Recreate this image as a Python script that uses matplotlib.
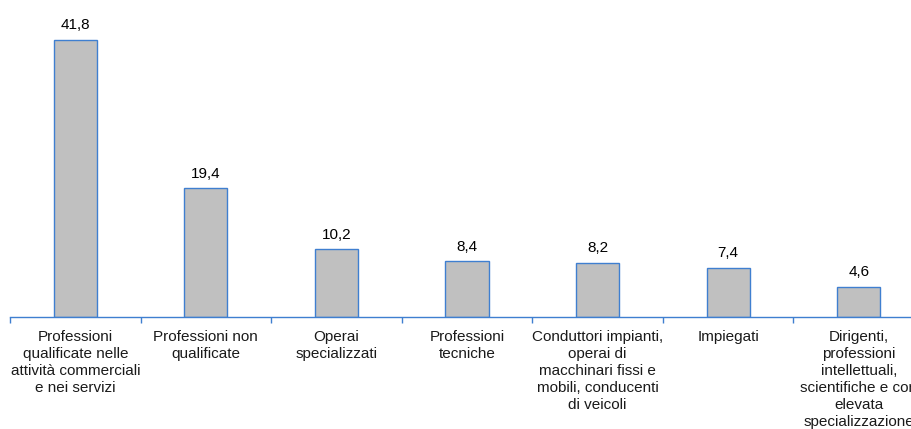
import matplotlib
matplotlib.use("Agg")
import matplotlib.pyplot as plt

categories = [
    "Professioni\nqualificate nelle\nattività commerciali\ne nei servizi",
    "Professioni non\nqualificate",
    "Operai\nspecializzati",
    "Professioni\ntecniche",
    "Conduttori impianti,\noperai di\nmacchinari fissi e\nmobili, conducenti\ndi veicoli",
    "Impiegati",
    "Dirigenti,\nprofessioni\nintellettuali,\nscientifiche e con\nelevata\nspecializzazione",
]
values = [41.8, 19.4, 10.2, 8.4, 8.2, 7.4, 4.6]
value_labels = ["41,8", "19,4", "10,2", "8,4", "8,2", "7,4", "4,6"]

plt.rcParams['font.family'] = ['Liberation Sans', 'DejaVu Sans']

W, H = 912, 429
fig = plt.figure(figsize=(W/100, H/100), dpi=100)
left_px, right_px = 10, 924
base_px = 317
ax = fig.add_axes([left_px/W, (H-base_px)/H, (right_px-left_px)/W, base_px/H])

blue = "#3F7FD0"
x = list(range(len(values)))
ax.bar(x, values, width=0.33, color="#C0C0C0", edgecolor=blue, linewidth=1.0)
ax.set_xlim(-0.5, len(values)-0.5)
ax.set_ylim(0, 317/6.627)

for xi, v, lab in zip(x, values, value_labels):
    ax.annotate(lab, (xi, v), xytext=(0, 5.5), textcoords="offset points",
                ha="center", va="bottom", fontsize=11, color="#000000")

for s in ["top", "right", "left"]:
    ax.spines[s].set_visible(False)
ax.spines["bottom"].set_color(blue)
ax.spines["bottom"].set_linewidth(1.0)
ax.set_yticks([])
ax.set_xticks([i - 0.5 for i in range(len(values)+1)])
ax.set_xticklabels([])
ax.tick_params(axis="x", colors=blue, length=4, width=1.0, direction="out")

for xi, c in zip(x, categories):
    ax.text(xi, -0.04, c, transform=ax.get_xaxis_transform(), ha="center", va="top",
            fontsize=11, color="#1a1a1a", linespacing=1.28, clip_on=False)

fig.savefig("out.png", dpi=100)
